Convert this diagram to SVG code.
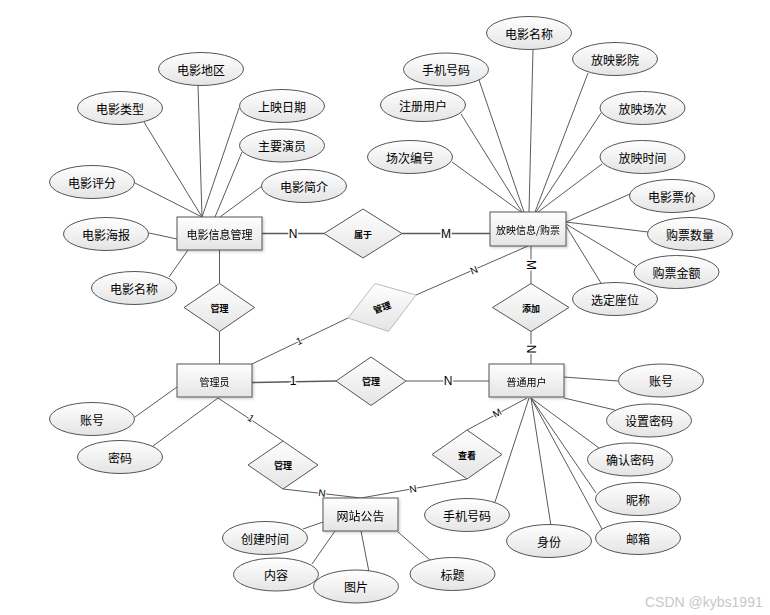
<svg xmlns="http://www.w3.org/2000/svg" width="770" height="615" viewBox="0 0 770 615">
<style>
.bg{fill:#fff}
.ln{stroke:#5a5a5a;stroke-width:1;fill:none}
.ell{fill:url(#g);stroke:#555;stroke-width:1}
.ent{fill:url(#g);stroke:#555;stroke-width:1}
.dia{fill:url(#g);stroke:#555;stroke-width:1}
.dia2{fill:url(#g);stroke:#bbb;stroke-width:1}
text{font-family:"Noto Sans CJK SC","Liberation Sans",sans-serif;fill:#000;text-anchor:middle;dominant-baseline:central}
.t12{font-size:12px}
.t11{font-size:11px}
.t10{font-size:10px}
.t9{font-size:9px;font-weight:bold}
.lab{font-family:"Liberation Sans",sans-serif;font-size:12px;stroke:#fff;stroke-width:3;paint-order:stroke}
.labs{font-family:"Liberation Sans",sans-serif;font-size:10px;stroke:#fff;stroke-width:2;paint-order:stroke}
.wm{font-family:"Liberation Sans",sans-serif;font-size:14px;fill:#c8c8c8;text-anchor:start}
</style>
<defs>
<linearGradient id="g" x1="0" y1="0" x2="0" y2="1">
<stop offset="0" stop-color="#ffffff"/>
<stop offset="1" stop-color="#e4e4e4"/>
</linearGradient>
<filter id="sh" x="-10%" y="-10%" width="130%" height="140%">
<feDropShadow dx="1.5" dy="1.5" stdDeviation="0.8" flood-color="#000" flood-opacity="0.18"/>
</filter>
</defs>
<rect class="bg" x="0" y="0" width="770" height="615"/>

<g id="connectors">
<!-- movie info attrs -->
<line class="ln" x1="198" y1="85" x2="202" y2="217"/>
<line class="ln" x1="144" y1="122" x2="202" y2="217"/>
<line class="ln" x1="239" y1="108" x2="202" y2="217"/>
<line class="ln" x1="242" y1="152" x2="215" y2="217"/>
<line class="ln" x1="262" y1="186" x2="220" y2="217"/>
<line class="ln" x1="135" y1="183" x2="202" y2="217"/>
<line class="ln" x1="149" y1="233" x2="177" y2="239"/>
<line class="ln" x1="169" y1="277" x2="188" y2="250"/>
<line class="ln" x1="219.5" y1="250" x2="219.5" y2="284"/>
<line class="ln" x1="262" y1="233.5" x2="324" y2="233.5" style="stroke-width:1.5"/>
<!-- screening attrs -->
<line class="ln" x1="533" y1="49" x2="529" y2="212"/>
<line class="ln" x1="479" y1="80" x2="524" y2="212"/>
<line class="ln" x1="461" y1="114" x2="522" y2="212"/>
<line class="ln" x1="452" y1="162" x2="521" y2="212"/>
<line class="ln" x1="588" y1="73" x2="535" y2="212"/>
<line class="ln" x1="601" y1="113" x2="536" y2="212"/>
<line class="ln" x1="602" y1="164" x2="538" y2="212"/>
<line class="ln" x1="630" y1="194" x2="566" y2="222"/>
<line class="ln" x1="648" y1="232" x2="566" y2="222"/>
<line class="ln" x1="636" y1="266" x2="566" y2="224"/>
<line class="ln" x1="601" y1="283" x2="566" y2="226"/>
<line class="ln" x1="402" y1="233.5" x2="490" y2="233.5" style="stroke-width:1.5"/>
<line class="ln" x1="531" y1="246" x2="531" y2="284"/>
<line class="ln" x1="531" y1="331" x2="531" y2="364"/>
<!-- admin -->
<line class="ln" x1="219.5" y1="331" x2="219.5" y2="364"/>
<line class="ln" x1="252" y1="364" x2="348" y2="318"/>
<line class="ln" x1="416" y1="295" x2="528" y2="246"/>
<line class="ln" x1="252" y1="382.5" x2="336" y2="381" style="stroke-width:1.5"/>
<line class="ln" x1="406" y1="381" x2="489" y2="381"/>
<line class="ln" x1="135" y1="417" x2="177" y2="387"/>
<line class="ln" x1="153" y1="446" x2="218" y2="398"/>
<line class="ln" x1="218" y1="398" x2="283" y2="441"/>
<line class="ln" x1="283" y1="489" x2="361" y2="498"/>
<line class="ln" x1="361" y1="498" x2="467" y2="479"/>
<line class="ln" x1="467" y1="430" x2="527" y2="398"/>
<!-- user attrs -->
<line class="ln" x1="564" y1="377" x2="618" y2="381"/>
<line class="ln" x1="564" y1="398" x2="615" y2="410"/>
<line class="ln" x1="531" y1="398" x2="599" y2="448"/>
<line class="ln" x1="531" y1="398" x2="596" y2="493"/>
<line class="ln" x1="531" y1="398" x2="602" y2="529"/>
<line class="ln" x1="531" y1="398" x2="551" y2="526"/>
<line class="ln" x1="529" y1="398" x2="495" y2="502"/>
<!-- notice attrs -->
<line class="ln" x1="398" y1="532" x2="430" y2="560"/>
<line class="ln" x1="303" y1="529" x2="323" y2="522"/>
<line class="ln" x1="312" y1="564" x2="335" y2="531"/>
<line class="ln" x1="369" y1="572" x2="361" y2="531"/>
<!-- cardinality labels -->
<text class="lab" x="293" y="234">N</text>
<text class="lab" x="446" y="234">M</text>
<text class="lab" transform="translate(531,265) rotate(90)">M</text>
<text class="lab" transform="translate(531,349) rotate(90)">N</text>
<text class="lab" x="293" y="381">1</text>
<text class="lab" x="448" y="381">N</text>
<text class="labs" transform="translate(299,341) rotate(-25)">1</text>
<text class="labs" transform="translate(474,270) rotate(-23)">N</text>
<text class="labs" transform="translate(251,418) rotate(33)">1</text>
<text class="labs" transform="translate(322,493) rotate(7)">N</text>
<text class="labs" transform="translate(413,489) rotate(-10)">N</text>
<text class="labs" transform="translate(497,413) rotate(-28)">M</text>
</g>

<!-- entities -->
<g id="movie-info" filter="url(#sh)"><rect class="ent" x="177" y="217" width="85" height="33"/><text class="t11" x="219.5" y="234">电影信息管理</text></g>
<g id="screening" filter="url(#sh)"><rect class="ent" x="490" y="212" width="76" height="34"/><text class="t10" x="528" y="229">放映信息/购票</text></g>
<g id="admin" filter="url(#sh)"><rect class="ent" x="177" y="364" width="75" height="33"/><text class="t10" x="214.5" y="381">管理员</text></g>
<g id="user" filter="url(#sh)"><rect class="ent" x="489" y="364" width="75" height="33"/><text class="t10" x="526.5" y="381">普通用户</text></g>
<g id="notice" filter="url(#sh)"><rect class="ent" x="323" y="498" width="75" height="33"/><text class="t12" x="360.5" y="515">网站公告</text></g>

<!-- relationships -->
<g id="rel-belong"><polygon class="dia" points="324,233.5 363,209 402,233.5 363,258"/><text class="t9" x="363" y="234">属于</text></g>
<g id="rel-manage-movie"><polygon class="dia" points="184,307.5 219.5,283.5 254.5,307.5 219.5,331.5"/><text class="t9" x="219.5" y="308">管理</text></g>
<g id="rel-manage-screening"><polygon class="dia2" points="348,318 375,283.5 416,295 388.5,331.5"/><text class="t9" transform="translate(382,307.5) rotate(-20)">管理</text></g>
<g id="rel-manage-user"><polygon class="dia" points="336,381 371,357 406,381 371,405.5"/><text class="t9" x="371" y="381">管理</text></g>
<g id="rel-add"><polygon class="dia" points="492.5,307.5 531,283.5 569,307.5 531,331.5"/><text class="t9" x="531" y="308">添加</text></g>
<g id="rel-view"><polygon class="dia" points="432,454.5 467,430 502,454.5 467,479"/><text class="t9" x="467" y="455">查看</text></g>
<g id="rel-manage-notice"><polygon class="dia" points="248,465 283,441 318,465 283,489"/><text class="t9" x="283" y="465">管理</text></g>

<!-- attributes -->
<g id="a-region"><ellipse class="ell" cx="201" cy="69" rx="42.5" ry="16.5"/><text class="t12" x="201" y="69">电影地区</text></g>
<g id="a-type"><ellipse class="ell" cx="120" cy="108" rx="42.5" ry="16.5"/><text class="t12" x="120" y="108">电影类型</text></g>
<g id="a-date"><ellipse class="ell" cx="282" cy="106" rx="42.5" ry="16.5"/><text class="t12" x="282" y="106">上映日期</text></g>
<g id="a-actor"><ellipse class="ell" cx="282" cy="145.5" rx="42.5" ry="16.5"/><text class="t12" x="282" y="145.5">主要演员</text></g>
<g id="a-score"><ellipse class="ell" cx="92" cy="182" rx="42.5" ry="16.5"/><text class="t12" x="92" y="182">电影评分</text></g>
<g id="a-intro"><ellipse class="ell" cx="304" cy="186" rx="42.5" ry="16.5"/><text class="t12" x="304" y="186">电影简介</text></g>
<g id="a-poster"><ellipse class="ell" cx="106" cy="234" rx="42.5" ry="16.5"/><text class="t12" x="106" y="234">电影海报</text></g>
<g id="a-name1"><ellipse class="ell" cx="134" cy="288" rx="42.5" ry="16.5"/><text class="t12" x="134" y="288">电影名称</text></g>

<g id="a-name2"><ellipse class="ell" cx="529" cy="33" rx="42.5" ry="16.5"/><text class="t12" x="529" y="33">电影名称</text></g>
<g id="a-phone1"><ellipse class="ell" cx="446" cy="69.5" rx="42.5" ry="16.5"/><text class="t12" x="446" y="69.5">手机号码</text></g>
<g id="a-cinema"><ellipse class="ell" cx="615" cy="59" rx="42.5" ry="16.5"/><text class="t12" x="615" y="59">放映影院</text></g>
<g id="a-reguser"><ellipse class="ell" cx="423" cy="105" rx="42.5" ry="16.5"/><text class="t12" x="423" y="105">注册用户</text></g>
<g id="a-session"><ellipse class="ell" cx="642.5" cy="108" rx="42.5" ry="16.5"/><text class="t12" x="642.5" y="108">放映场次</text></g>
<g id="a-sessno"><ellipse class="ell" cx="410" cy="157" rx="42.5" ry="16.5"/><text class="t12" x="410" y="157">场次编号</text></g>
<g id="a-time"><ellipse class="ell" cx="642.5" cy="157" rx="42.5" ry="16.5"/><text class="t12" x="642.5" y="157">放映时间</text></g>
<g id="a-price"><ellipse class="ell" cx="672" cy="196" rx="42.5" ry="16.5"/><text class="t12" x="672" y="196">电影票价</text></g>
<g id="a-qty"><ellipse class="ell" cx="690" cy="234" rx="42.5" ry="16.5"/><text class="t12" x="690" y="234">购票数量</text></g>
<g id="a-amount"><ellipse class="ell" cx="676.5" cy="272" rx="42.5" ry="16.5"/><text class="t12" x="676.5" y="272">购票金额</text></g>
<g id="a-seat"><ellipse class="ell" cx="615" cy="299" rx="42.5" ry="16.5"/><text class="t12" x="615" y="299">选定座位</text></g>

<g id="a-acc1"><ellipse class="ell" cx="92" cy="419" rx="42.5" ry="16.5"/><text class="t12" x="92" y="419">账号</text></g>
<g id="a-pwd1"><ellipse class="ell" cx="120" cy="457" rx="42.5" ry="16.5"/><text class="t12" x="120" y="457">密码</text></g>

<g id="a-acc2"><ellipse class="ell" cx="661" cy="380.5" rx="42.5" ry="16.5"/><text class="t12" x="661" y="380.5">账号</text></g>
<g id="a-setpwd"><ellipse class="ell" cx="649" cy="420.5" rx="42.5" ry="16.5"/><text class="t12" x="649" y="420.5">设置密码</text></g>
<g id="a-confpwd"><ellipse class="ell" cx="630" cy="459.5" rx="42.5" ry="16.5"/><text class="t12" x="630" y="459.5">确认密码</text></g>
<g id="a-nick"><ellipse class="ell" cx="638" cy="499" rx="42.5" ry="16.5"/><text class="t12" x="638" y="499">昵称</text></g>
<g id="a-mail"><ellipse class="ell" cx="638" cy="538" rx="42.5" ry="16.5"/><text class="t12" x="638" y="538">邮箱</text></g>
<g id="a-ident"><ellipse class="ell" cx="549" cy="541" rx="42.5" ry="16.5"/><text class="t12" x="549" y="541">身份</text></g>
<g id="a-phone2"><ellipse class="ell" cx="467" cy="515" rx="42.5" ry="16.5"/><text class="t12" x="467" y="515">手机号码</text></g>

<g id="a-created"><ellipse class="ell" cx="265" cy="538" rx="42.5" ry="16.5"/><text class="t12" x="265" y="538">创建时间</text></g>
<g id="a-content"><ellipse class="ell" cx="276" cy="574.5" rx="42.5" ry="16.5"/><text class="t12" x="276" y="574.5">内容</text></g>
<g id="a-image"><ellipse class="ell" cx="356" cy="586.5" rx="42.5" ry="16.5"/><text class="t12" x="356" y="586.5">图片</text></g>
<g id="a-title"><ellipse class="ell" cx="452.5" cy="574" rx="42.5" ry="16.5"/><text class="t12" x="452.5" y="574">标题</text></g>

<text class="wm" x="645" y="602">CSDN @kybs1991</text>
</svg>
